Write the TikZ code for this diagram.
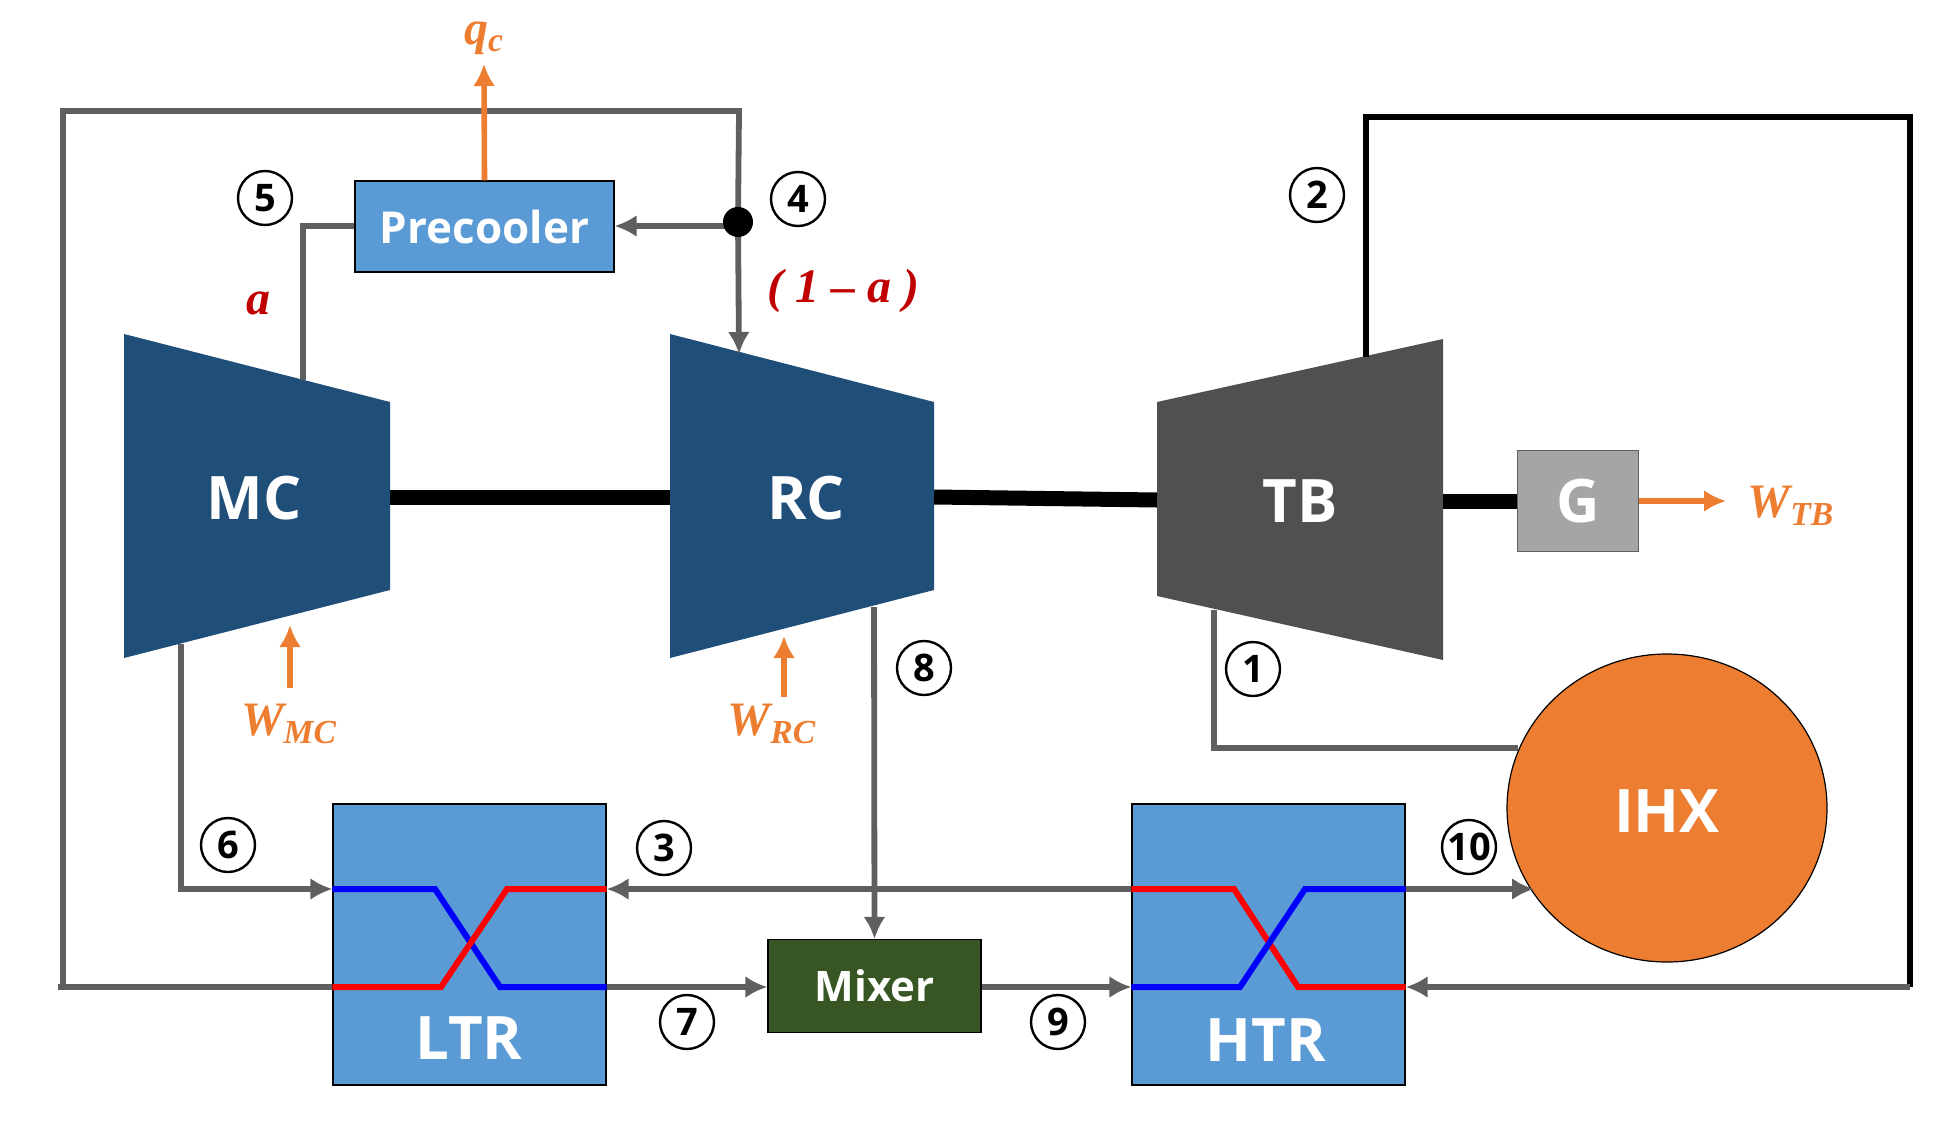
\documentclass[tikz,border=0pt]{standalone}
\usepackage{fontspec}
\setmainfont{Open Sans}
\newfontfamily\symfont{Liberation Serif}
\usetikzlibrary{arrows.meta,shapes.geometric}
\definecolor{line gray}{HTML}{5F5F5F}
\definecolor{box blue}{HTML}{5B9BD5}
\definecolor{comp navy}{HTML}{1F4E79}
\definecolor{turb gray}{HTML}{505050}
\definecolor{gen gray}{HTML}{A5A5A5}
\definecolor{heat orange}{HTML}{ED7D31}
\definecolor{mix green}{HTML}{375623}
\definecolor{frac red}{HTML}{C00000}
\begin{document}
\begin{tikzpicture}[x=0.5pt,y=-0.5pt,
    pipe/.style={draw=line gray, line width=2.9pt},
    flow/.style={pipe, -{Latex[length=11pt,width=11pt]}},
    hot/.style={draw=red, line width=3pt},
    cold/.style={draw=blue, line width=3pt},
    power/.style={draw=heat orange, line width=2.8pt, -{Latex[length=11pt,width=11pt]}},
    shaft/.style={draw=black, line width=7.5pt},
    unit/.style={draw=black, line width=.6pt, text=white, inner sep=0pt, font=\fontsize{30}{32}\selectfont\bfseries},
    hx/.style={unit, fill=box blue, minimum width=136.5pt, minimum height=140.5pt},
    machine/.style={text=white, font=\fontsize{30}{32}\selectfont\bfseries},
    state/.style={circle, draw=black, line width=1.2pt, minimum size=27pt, inner sep=0pt, font=\fontsize{19}{20}\selectfont\bfseries},
    heatlabel/.style={text=heat orange, font=\symfont\fontsize{24}{26}\selectfont\bfseries\itshape},
    fraclabel/.style={text=frac red, font=\symfont\fontsize{24}{26}\selectfont\bfseries\itshape}]
\useasboundingbox (0,0) rectangle (1942,1124);
\coordinate (up) at (0,889);
\coordinate (low) at (0,987);
\coordinate (sp) at (738,222);
\coordinate (cool) at (0,226);

\fill[comp navy] (124,334) -- (390,402) -- (390,590) -- (124,658) -- cycle;
\fill[comp navy] (670,334) -- (934,402) -- (934,590) -- (670,658) -- cycle;
\fill[turb gray] (1157,402) -- (1443,339) -- (1443,660) -- (1157,596) -- cycle;
\node[machine] (mc) at (254,498) {MC};
\node[machine] (rc) at (806,498) {RC};
\node[machine] (tb) at (1300,501) {TB};

\node[unit, fill=box blue, minimum width=129.5pt, minimum height=45.5pt, font=\fontsize{22}{24}\selectfont\bfseries] (precooler) at (484.5,226.5) {Precooler};
\node[unit, fill=gen gray, draw=line gray, minimum width=60.5pt, minimum height=50.5pt] (gen) at (1578,501) {G};
\node[unit, fill=heat orange, ellipse, minimum width=160pt, minimum height=154pt] (ihx) at (1667,808) {};
\node[machine] (ihxname) at (1667,811) {IHX};
\node[unit, fill=mix green, minimum width=106.5pt, minimum height=46.5pt, font=\fontsize{21}{23}\selectfont\bfseries] (mixer) at (874.5,986) {Mixer};
\node[hx] (ltr) at (469.5,944.5) {};
\node[hx] (htr) at (1268.5,944.5) {};
\node[machine] (ltrname) at (469,1038) {LTR};
\node[machine] (htrname) at (1266,1040) {HTR};

\coordinate (mcin) at (303,380);
\coordinate (mcout) at (181,644);
\coordinate (rcin) at (739,354);
\coordinate (rcout) at (874,607);
\coordinate (tbin) at (1214,610);
\coordinate (tbout) at (1366,357);

\draw[shaft] (390,497) -- (670,497);
\draw[shaft] (934,497) -- (1157,500);
\draw[shaft] (1443,501) -- (gen.west);

\draw[pipe] (58,987) -- (ltr.west |- low);
\draw[pipe] (63,987) -- (63,111) -- (739,111) -- (sp);
\draw[flow] (sp) -- (rcin);
\draw[flow] (sp |- cool) -- (precooler.east |- cool);
\draw[pipe] (precooler.west |- cool) -- (303,226) -- (mcin);
\draw[flow] (mcout) -- (181,889) -- (ltr.west |- up);
\draw[flow] (htr.west |- up) -- (ltr.east |- up);
\draw[flow] (rcout) -- (mixer.north);
\draw[flow] (ltr.east |- low) -- (mixer.west |- low);
\draw[flow] (mixer.east |- low) -- (htr.west |- low);
\draw[flow] (htr.east |- up) -- (1534,889);
\draw[pipe] (tbin) -- (1214,748) -- (1518,748);
\draw[draw=black, line width=3pt] (tbout) -- (1366,117) -- (1910,117) -- (1910,987);
\draw[flow] (1910,987) -- (htr.east |- low);
\fill[black] (sp) circle (7.5pt);

\draw[cold] (ltr.west |- up) -- (435,889) -- (500,987) -- (ltr.east |- low);
\draw[hot] (ltr.west |- low) -- (441,987) -- (507,889) -- (ltr.east |- up);
\draw[hot] (htr.west |- up) -- (1234,889) -- (1298,987) -- (htr.east |- low);
\draw[cold] (htr.west |- low) -- (1240,987) -- (1305,889) -- (htr.east |- up);

\draw[power] (precooler.north) -- (484,64);
\draw[power] (gen.east) -- (1726,501);
\draw[power] (290,688) -- (290,625);
\draw[power] (784,697) -- (784,636);
\node[heatlabel] (qc) at (484,38) {q\textsubscript{c}};
\node[heatlabel] (wtb) at (1791,506) {W\textsubscript{TB}};
\node[heatlabel] (wmc) at (289,724) {W\textsubscript{MC}};
\node[heatlabel] (wrc) at (772,724) {W\textsubscript{RC}};
\node[fraclabel] (fa) at (258,303) {a};
\node[fraclabel] (fb) at (843,291) {( 1 – a )};

\node[state] (s1) at (1253,669) {1};
\node[state] (s2) at (1317,195) {2};
\node[state] (s3) at (664,848) {3};
\node[state] (s4) at (798,199) {4};
\node[state] (s5) at (265,198) {5};
\node[state] (s6) at (228,845) {6};
\node[state] (s7) at (687,1022) {7};
\node[state] (s8) at (924,668) {8};
\node[state] (s9) at (1058,1022) {9};
\node[state] (s10) at (1469,847) {10};
\end{tikzpicture}
\end{document}
